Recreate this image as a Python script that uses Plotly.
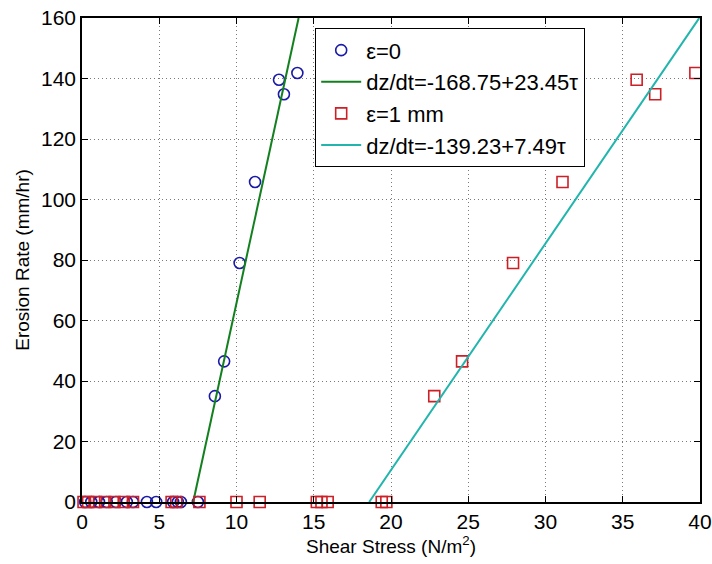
import numpy as np
import plotly.graph_objects as go

# Measured erosion rate vs. bed shear stress
tau_smooth = [0.2, 0.6, 1.1, 1.6, 2.2, 2.9, 3.3, 4.2, 4.8, 5.9, 6.2, 6.4, 7.5,
              8.6, 9.2, 10.2, 11.2, 12.75, 13.07, 13.94]
rate_smooth = [0, 0, 0, 0, 0, 0, 0, 0, 0, 0, 0, 0, 0,
               35, 46.5, 79, 105.8, 139.6, 134.8, 141.8]

tau_rough = [0.1, 0.4, 0.9, 1.5, 2.1, 2.7, 3.3, 5.8, 6.1, 7.6, 10.0, 11.5,
             15.2, 15.5, 15.9, 19.4, 19.7,
             22.8, 24.6, 27.9, 31.1, 35.9, 37.1, 39.7]
rate_rough = [0, 0, 0, 0, 0, 0, 0, 0, 0, 0, 0, 0,
              0, 0, 0, 0, 0,
              35, 46.5, 79, 105.8, 139.6, 134.8, 141.8]

# Linear fits dz/dt = a + b*tau
fit_smooth = (-168.75, 23.45)
fit_rough = (-139.23, 7.49)

x_ticks = list(range(0, 41, 5))
y_ticks = list(range(0, 161, 20))
y_max = 160

FONT = "Liberation Sans, Arial, sans-serif"


def fit_segment(a, b):
    # segment of the fit between zero erosion and the top of the axis
    x0 = -a / b
    x1 = (y_max - a) / b
    xs = np.array([x0, x1])
    return xs, a + b * xs


fig = go.Figure()

fig.add_trace(go.Scatter(
    x=tau_smooth, y=rate_smooth, mode="markers", name="ε=0",
    marker=dict(symbol="circle-open", size=11, color="#1a1aa8",
                line=dict(width=1.6, color="#1a1aa8")),
    cliponaxis=False))

xs, ys = fit_segment(*fit_smooth)
fig.add_trace(go.Scatter(
    x=xs, y=ys, mode="lines", name="dz/dt=-168.75+23.45τ",
    line=dict(color="#12801e", width=2)))

fig.add_trace(go.Scatter(
    x=tau_rough, y=rate_rough, mode="markers", name="ε=1 mm",
    marker=dict(symbol="square-open", size=11, color="#cc1f26",
                line=dict(width=1.6, color="#cc1f26")),
    cliponaxis=False))

xs, ys = fit_segment(*fit_rough)
fig.add_trace(go.Scatter(
    x=xs, y=ys, mode="lines", name="dz/dt=-139.23+7.49τ",
    line=dict(color="#22b5ad", width=2)))

axis_common = dict(
    showline=True, linecolor="black", linewidth=1.5, mirror="ticks",
    ticks="inside", ticklen=6, tickcolor="black", tickwidth=1.2,
    showgrid=True, gridcolor="#7a7a7a", gridwidth=1, griddash="1px,3px",
    zeroline=False, automargin=False,
    tickfont=dict(family=FONT, size=21, color="black"),
)

fig.update_xaxes(
    range=[0, 40], tickvals=x_ticks,
    title=dict(text="Shear Stress (N/m<sup>2</sup>)", standoff=4,
               font=dict(family=FONT, size=19, color="black")),
    **axis_common)
fig.update_yaxes(
    range=[0, y_max], tickvals=y_ticks,
    title=dict(text="Erosion Rate (mm/hr)", standoff=6,
               font=dict(family=FONT, size=19, color="black")),
    **axis_common)

fig.update_layout(
    width=712, height=564,
    margin=dict(l=82, r=12, t=18, b=62),
    paper_bgcolor="white", plot_bgcolor="white",
    showlegend=True,
    legend=dict(
        x=0.377, y=0.979, xanchor="left", yanchor="top",
        bgcolor="white", bordercolor="black", borderwidth=1.2,
        font=dict(family=FONT, size=22, color="black"),
        itemwidth=40, tracegroupgap=0,
    ),
)

fig.write_html("out.html")
